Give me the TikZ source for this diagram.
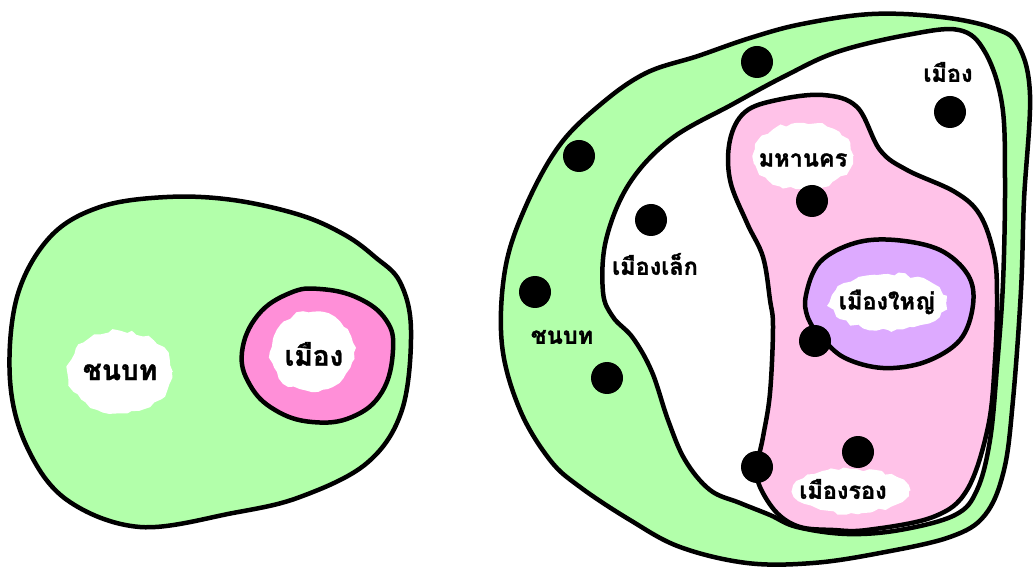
\documentclass[tikz,border=0pt]{standalone}
\usepackage{fontspec}
\newfontfamily\thai[Script=Thai, BoldFeatures={FakeBold=1.3}]{Loma}
\usetikzlibrary{decorations.pathmorphing}
\definecolor{grn}{RGB}{178,255,170}
\definecolor{pinkA}{RGB}{255,143,216}
\definecolor{pinkB}{RGB}{255,194,232}
\definecolor{purp}{RGB}{221,170,255}
\tikzset{
  outline/.style={draw=black, line width=4.5pt, line join=round},
  blob/.style={fill=white, decorate, decoration={random steps, segment length=6pt, amplitude=2pt}},
  dot/.style={circle, fill=black, minimum size=32pt, inner sep=0pt},
  lblbig/.style={font=\thai\bfseries\fontsize{28}{32}\selectfont, inner sep=0pt},
  lbl/.style={font=\thai\bfseries\fontsize{23.5}{27}\selectfont, inner sep=0pt}
}
\begin{document}
\begin{tikzpicture}[x=1pt,y=-1pt]
\pgfmathsetseed{7}
\useasboundingbox (0,0) rectangle (1034,569);
\fill[white] (0,0) rectangle (1034,569);

% ---------- left diagram ----------
\filldraw[outline, fill=grn] plot[smooth cycle, tension=0.6] coordinates {
 (10,380) (17,297) (50,237) (100,207) (167,197) (233,200) (300,215) (345,235)
 (375,257) (400,282) (411,330) (402,410) (367,463) (300,497) (233,513) (140,527) (67,500) (27,447)};
\filldraw[outline, fill=pinkA] plot[smooth cycle, tension=0.7] coordinates {
 (242,352) (258,315) (290,293) (320,289) (358,298) (386,320) (393,350)
 (382,392) (352,417) (312,422) (275,410) (250,385)};
\fill[blob] (120,372) ellipse [x radius=52, y radius=41];
\fill[blob] (312,352) ellipse [x radius=42, y radius=40];
\node[lblbig] (chonL) at (120,372) {ชนบท};
\node[lblbig] (muangL) at (314,354) {เมือง};

% ---------- right diagram ----------
\filldraw[outline, fill=grn] plot[smooth cycle, tension=0.6] coordinates {
 (502,345) (505,270) (525,208) (559,146) (601,104) (646,73) (698,56) (750,38)
 (802,24) (872,14) (941,17) (993,28) (1018,45) (1030,95) (1024,200) (1021,290)
 (1013,400) (1004,470) (985,515) (950,537) (880,553) (813,563) (747,563)
 (680,547) (630,520) (580,487) (550,460) (520,410)};
\filldraw[outline, fill=white] plot[smooth cycle, tension=0.6] coordinates {
 (603,292) (606,240) (629,184) (671,139) (733,104) (785,76) (837,52) (907,35)
 (959,30) (985,52) (1002,104) (1005,180) (1003,283) (997,367) (990,440)
 (977,490) (955,515) (900,530) (847,534) (797,527) (770,515) (740,503)
 (710,490) (685,460) (668,420) (652,372) (633,338) (613,317)};
\filldraw[outline, fill=pinkB] plot[smooth cycle, tension=0.6] coordinates {
 (730,140) (745,112) (777,100) (823,95) (857,107) (880,150) (907,170) (955,192)
 (980,215) (994,255) (997,295) (995,360) (988,427) (967,490) (933,517)
 (867,530) (833,530) (800,527) (777,513) (760,487) (757,467) (763,437)
 (770,393) (773,327) (770,300) (763,257) (747,223) (730,180)};
\filldraw[outline, fill=purp] plot[smooth cycle, tension=0.6] coordinates {
 (806,295) (820,262) (855,243) (895,240) (940,250) (968,275) (973,305)
 (960,340) (925,362) (883,368) (845,358) (822,338) (808,318)};

\fill[blob] (803,156) ellipse [x radius=50, y radius=33];
\fill[blob] (888,302) ellipse [x radius=58, y radius=28];
\fill[blob] (851,491) ellipse [x radius=58, y radius=22];

\node[lbl] (muangR) at (948,72) {เมือง};
\node[lbl] (maha) at (803,160) {มหานคร};
\node[lbl] (lek) at (655,264) {เมืองเล็ก};
\node[lbl] (yai) at (887,302) {เมืองใหญ่};
\node[lbl] (chonR) at (562,337) {ชนบท};
\node[lbl] (rong) at (843,489) {เมืองรอง};

% dots
\node[dot] (d1) at (757,62) {};
\node[dot] (d2) at (579,156) {};
\node[dot] (d3) at (651,220) {};
\node[dot] (d4) at (535,292) {};
\node[dot] (d5) at (607,378) {};
\node[dot] (d6) at (950,112) {};
\node[dot] (d7) at (812,201) {};
\node[dot] (d8) at (815,341) {};
\node[dot] (d9) at (757,467) {};
\node[dot] (d10) at (858,452) {};
\end{tikzpicture}
\end{document}
